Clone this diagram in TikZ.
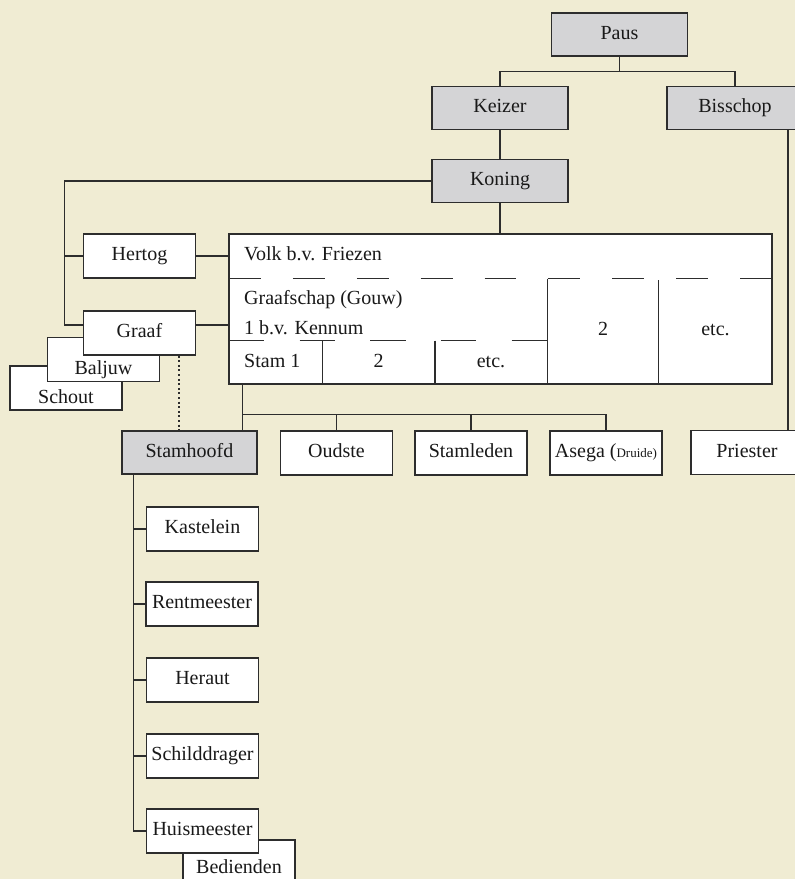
\documentclass[tikz,border=0pt]{standalone}
\usepackage{fontspec}
\setmainfont{Liberation Serif}
\definecolor{bgcol}{RGB}{240,236,211}
\definecolor{boxgray}{RGB}{212,212,214}
\definecolor{linecol}{RGB}{45,45,45}
\definecolor{txtcol}{RGB}{25,25,25}
\begin{document}
\begin{tikzpicture}[x=1pt,y=-1pt,
  box/.style={draw=linecol, line width=1.2pt, fill=white, inner sep=0pt,
    minimum width=112pt, minimum height=44pt, text height=13.5pt, text depth=4.5pt,
    font=\fontsize{20}{24}\selectfont, text=txtcol},
  gbox/.style={box, fill=boxgray, minimum width=136pt, minimum height=43pt},
  lowtext/.style={text height=30pt, text depth=0pt},
  conn/.style={draw=linecol, line width=1.2pt},
  tbl/.style={font=\fontsize{20}{24}\selectfont, text=txtcol, inner sep=0pt}]
\fill[bgcol] (0,0) rectangle (795,879);
\useasboundingbox (0,0) rectangle (795,879);
\begin{scope}
\clip (0,0) rectangle (795,879);
% top
\node[gbox] (paus) at (619.5,34.5) {Paus};
\node[gbox] (keizer) at (500,108) {Keizer};
\node[gbox] (bisschop) at (735,108) {Bisschop};
\node[gbox] (koning) at (500,181) {Koning};
% left
\node[box] (hertog) at (139.5,256) {Hertog};
\node[box, lowtext] (schout) at (66,388) {Schout};
\node[box, lowtext] (baljuw) at (103.5,359.5) {Baljuw};
\node[box] (graaf) at (139.5,333) {Graaf};
% table
\node[draw=linecol, line width=1.2pt, fill=white, inner sep=0pt,
  minimum width=543pt, minimum height=150pt] (volk) at (500.5,309) {};
\node[tbl, anchor=base west] (tvolk) at (244,260.7) {Volk b.v. Friezen};
\node[tbl, anchor=base west] (tgraaf) at (244,304) {Graafschap (Gouw)};
\node[tbl, anchor=base west] (tkennum) at (244,334) {1 b.v. Kennum};
\node[tbl, anchor=base west] (tstam) at (244,367.3) {Stam 1};
\node[tbl, anchor=base] (tstam2) at (378.5,367.3) {2};
\node[tbl, anchor=base] (tstam3) at (491,367.3) {etc.};
\node[tbl, anchor=base] (tg2) at (603,335) {2};
\node[tbl, anchor=base] (tg3) at (715.5,335) {etc.};
\draw[conn, dash pattern=on 31.94pt off 31.94pt] (229,278.7) -- (772,278.7);
\draw[conn, dash pattern=on 35.33pt off 35.33pt] (229,340.7) -- (547.3,340.7);
\draw[conn] (547.3,278.7) -- (547.3,384);
\draw[conn] (658.7,280) -- (658.7,384);
\draw[conn] (322.3,340.7) -- (322.3,384);
\draw[conn] (435,340.7) -- (435,384);
% bottom row
\node[gbox, minimum width=135pt] (stamhoofd) at (189.5,452.5) {Stamhoofd};
\node[box] (oudste) at (336.5,453) {Oudste};
\node[box] (stamleden) at (471,453) {Stamleden};
\node[box] (asega) at (606,453) {Asega (\fontsize{13}{15}\selectfont Druide)};
\node[box] (priester) at (747,452.5) {Priester};
% column
\node[box] (kastelein) at (202.5,529) {Kastelein};
\node[box] (rentmeester) at (202,604) {Rentmeester};
\node[box] (heraut) at (202.5,680) {Heraut};
\node[box] (schilddrager) at (202.5,756) {Schilddrager};
\node[box, text height=22pt, text depth=0pt] (bedienden) at (239,862) {Bedienden};
\node[box] (huismeester) at (202.5,831) {Huismeester};
% connectors
\coordinate (lx) at (64.5,0);
\coordinate (sx) at (133.5,0);
\draw[conn] (paus.south) -- ++(0,15) coordinate (pj);
\draw[conn] (keizer.north) |- (pj) -| (bisschop.north);
\draw[conn] (keizer.south) -- (koning.north);
\draw[conn] (koning.west) -- (koning.west -| lx) |- ([yshift=8pt]graaf.west);
\draw[conn] (hertog.west) -- (hertog.west -| lx);
\draw[conn] (hertog.east) -- (hertog.east -| volk.west);
\draw[conn] ([yshift=8pt]graaf.east) -- ([yshift=8pt]graaf.east -| volk.west);
\draw[draw=linecol, line width=2pt, dash pattern=on 2pt off 2.6pt]
  ([xshift=39pt]graaf.south) -- ([xshift=39pt]graaf.south |- stamhoofd.north);
\draw[conn] (koning.south) -- (koning.south |- volk.north);
\draw[conn] ([xshift=53pt]bisschop.south) -- ([xshift=53pt]bisschop.south |- priester.north);
\coordinate (hb) at (243.3,414.3);
\draw[conn] ([xshift=14.3pt]volk.south west) -- ([xshift=14.3pt]volk.south west |- stamhoofd.north);
\draw[conn] (hb) -- (hb -| asega.north) -- (asega.north);
\draw[conn] (hb -| oudste.north) -- (oudste.north);
\draw[conn] (hb -| stamleden.north) -- (stamleden.north);
\draw[conn] (stamhoofd.south -| sx) |- (huismeester.west);
\draw[conn] (kastelein.west -| sx) -- (kastelein.west);
\draw[conn] (rentmeester.west -| sx) -- (rentmeester.west);
\draw[conn] (heraut.west -| sx) -- (heraut.west);
\draw[conn] (schilddrager.west -| sx) -- (schilddrager.west);
\end{scope}
\end{tikzpicture}
\end{document}
